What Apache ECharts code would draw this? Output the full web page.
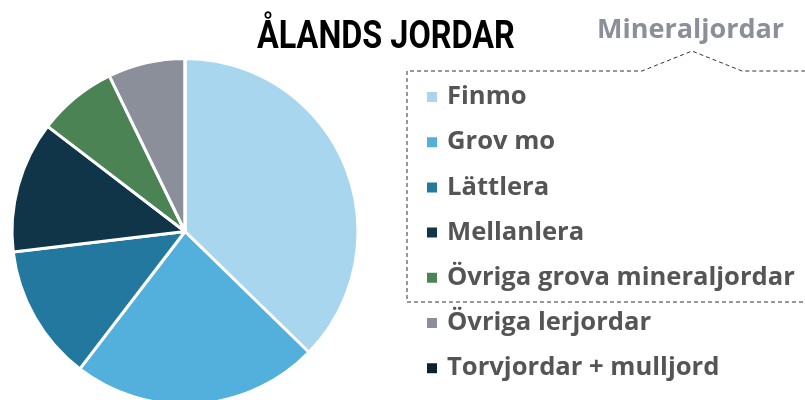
<!DOCTYPE html>
<html><head><meta charset="utf-8">
<script src="https://cdn.jsdelivr.net/npm/echarts@6/dist/echarts.min.js"></script>
<style>html,body{margin:0;padding:0;background:#fff}#c{width:805px;height:400px}</style>
</head><body><div id="c"></div>
<script>
const categories = ['Finmo','Grov mo','Lättlera','Mellanlera','Övriga grova mineraljordar','Övriga lerjordar','Torvjordar + mulljord'];
const values = [37.3, 23.1, 12.7, 12.3, 7.4, 7.2, 0];
const colors = ['#a8d6ee','#53afdc','#22789f','#113548','#4b8354','#8a8f9a','#0d2231'];
const titleText = 'ÅLANDS JORDAR';
const groupLabel = 'Mineraljordar';

const chart = echarts.init(document.getElementById('c'));
chart.setOption({
  animation: false,
  color: colors,
  legend: {
    orient: 'vertical', left: 420, top: 79,
    icon: 'rect', itemWidth: 12, itemHeight: 12, itemGap: 19.2,
    selectedMode: false,
    textStyle: {fontFamily: 'Open Sans', fontWeight: 'bold', fontSize: 25.6, color: '#555', lineHeight: 26, padding: [0,0,0,4]},
    data: categories
  },
  graphic: [
    {type: 'text', left: 257, top: 19, scaleX: 0.853, origin: [257, 19],
     style: {text: titleText, fontFamily: 'Roboto', fontWeight: 'bold', fontSize: 38, fill: '#000'}},
    {type: 'text', left: 597, top: 17,
     style: {text: groupLabel, fontFamily: 'Open Sans', fontWeight: 'bold', fontSize: 27, fill: '#8a8f9a'}},
    {type: 'polyline', shape: {points: [[810,302],[407,302],[407,71],[642,71],[692,51],[742,71],[810,71]]},
     style: {stroke: '#333', lineWidth: 1, lineDash: [4,3], fill: null}}
  ],
  series: [{
    type: 'pie', center: [185, 231.5], radius: 173, startAngle: 90, clockwise: true,
    label: {show: false}, labelLine: {show: false},
    itemStyle: {borderColor: '#fff', borderWidth: 3},
    emphasis: {disabled: true},
    data: categories.map((n, i) => ({name: n, value: values[i]}))
  }]
});
</script></body></html>
